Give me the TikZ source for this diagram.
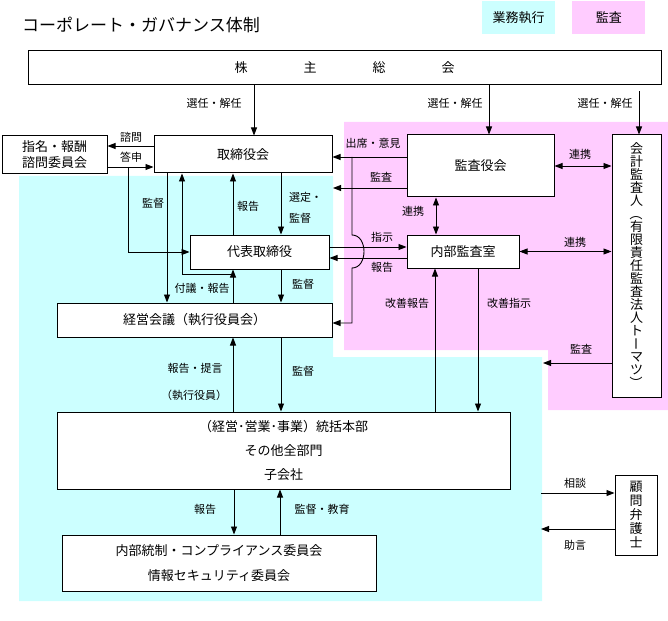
\documentclass[tikz,border=0pt]{standalone}
\usepackage{fontspec}
\setmainfont{Noto Sans CJK JP}
\usepackage{graphicx}
\usetikzlibrary{arrows.meta,positioning}

\definecolor{execcyan}{RGB}{204,255,255}
\definecolor{auditpink}{RGB}{255,204,255}

% one character turned for vertical writing
\newcommand{\tatechar}[1]{\rotatebox[origin=c]{-90}{\rule[-0.12em]{0pt}{1em}#1}}

\begin{document}
\begin{tikzpicture}[x=1pt, y=-1pt, font=\fontsize{13}{16}\selectfont]
    \tikzstyle{box} = [rectangle, draw, line width=1pt, fill=white, inner sep=0pt, align=center]
    \tikzstyle{legend} = [rectangle, inner sep=0pt, minimum width=73pt, minimum height=33pt]
    \tikzstyle{note} = [font=\fontsize{11}{13}\selectfont, inner sep=0pt]
    \tikzstyle{arrow} = [line width=0.9pt, -{Triangle[length=8pt,width=6pt]}]
    \tikzstyle{twoway} = [line width=0.9pt, {Triangle[length=8pt,width=6pt]}-{Triangle[length=8pt,width=6pt]}]

    \useasboundingbox (0,0) rectangle (668,620);

    % Areas
    \fill [execcyan] (19,176) -- (333,176) -- (333,357) -- (542,357) -- (542,601) -- (19,601) -- cycle;
    \fill [auditpink] (344,122) -- (668,122) -- (668,410) -- (548,410) -- (548,350) -- (344,350) -- cycle;

    % Title and legend
    \node [anchor=west, inner sep=0pt, font=\fontsize{17}{20}\selectfont] (title) at (22,25) {コーポレート・ガバナンス体制};
    \node [legend, fill=execcyan] (legexec) at (518.5,17.5) {業務執行};
    \node [legend, fill=auditpink, right=17pt of legexec] (legaudit) {監査};

    % Boxes
    \node [box, minimum width=633pt, minimum height=34pt] (kabunushi) at (344.5,68) {株\hspace{56pt}主\hspace{56pt}総\hspace{56pt}会};
    \node [box, minimum width=105pt, minimum height=38pt, font=\fontsize{13}{16}\selectfont] (shimei) at (54.5,155) {指名・報酬\\諮問委員会};
    \node [box, minimum width=178pt, minimum height=37pt] (torishimari) at (243,154.5) {取締役会};
    \node [box, minimum width=147pt, minimum height=62pt] (kansayaku) at (480.5,166) {監査役会};
    \node [box, minimum width=49pt, minimum height=262pt, font=\fontsize{13}{13}\selectfont] (kaikei) at (636.5,266)
        {会\\計\\監\\査\\人\\\tatechar{（}\\有\\限\\責\\任\\監\\査\\法\\人\\ト\\\tatechar{ー}\\マ\\ツ\\\tatechar{）}};
    \node [box, minimum width=139pt, minimum height=34pt] (daihyo) at (259.5,252) {代表取締役};
    \node [box, minimum width=112pt, minimum height=33pt] (naibu) at (463,251.5) {内部監査室};
    \node [box, minimum width=275pt, minimum height=34pt] (keiei) at (194.5,320) {経営会議（執行役員会）};
    \node [box, minimum width=453pt, minimum height=77pt, font=\fontsize{13}{24}\selectfont] (honbu) at (283.5,450.5)
        {（経営･営業･事業）統括本部\\その他全部門\\子会社};
    \node [box, minimum width=314pt, minimum height=56pt, font=\fontsize{13}{25}\selectfont] (iinkai) at (219,563)
        {内部統制・コンプライアンス委員会\\情報セキュリティ委員会};
    \node [box, minimum width=42pt, minimum height=80pt, font=\fontsize{13}{14}\selectfont] (komon) at (636,515) {顧\\問\\弁\\護\\士};

    % Free ends
    \coordinate (toshin) at (128,167);
    \coordinate (fugi) at (233,274);
    \coordinate (shusseki) at (352,157);
    \coordinate (kansaend) at (333,188);
    \coordinate (kaikeiend) at (543,363);
    \coordinate (sodan) at (541,493);
    \coordinate (jogen) at (541,529);

    % Arrows from the shareholders
    \draw [arrow] (kabunushi.south -| 254,0) -- (torishimari.north -| 254,0);
    \draw [arrow] (kabunushi.south -| 489,0) -- (kansayaku.north -| 489,0);
    \draw [arrow, shorten <=6pt] (kabunushi.south -| 639,0) -- (kaikei.north -| 639,0);
    \node [note] (l1) at (214,103) {選任・解任};
    \node [note] (l2) at (455,103) {選任・解任};
    \node [note] (l3) at (605,103) {選任・解任};

    % Board and committee
    \draw [arrow] (torishimari.west |- 0,146) -- (shimei.east |- 0,146);
    \draw [arrow] (shimei.east |- 0,167) -- (torishimari.west |- 0,167);
    \node [note] (l4) at (131,137) {諮問};
    \node [note] (l5) at (131,157) {答申};

    % Execution side
    \draw [arrow] (toshin) |- (daihyo.west);
    \draw [arrow] (torishimari.south -| 167,0) -- (keiei.north -| 167,0);
    \node [note] (l6) at (153,203) {監督};
    \draw [arrow] (daihyo.north -| 233,0) -- (torishimari.south -| 233,0);
    \node [note] (l7) at (248,206) {報告};
    \draw [arrow] (torishimari.south -| 281,0) -- (daihyo.north -| 281,0);
    \node [note, anchor=west, align=left, font=\fontsize{11}{21}\selectfont] (l8) at (289,207.5) {選定・\\監督};
    \draw [arrow] (keiei.north -| 233,0) -- (daihyo.south -| 233,0);
    \draw [arrow] (fugi) -| (torishimari.south -| 182,0);
    \node [note] (l9) at (202,288) {付議・報告};
    \draw [arrow] (daihyo.south -| 281,0) -- (keiei.north -| 281,0);
    \node [note] (l10) at (303,284) {監督};
    \draw [arrow] (honbu.north -| 233,0) -- (keiei.south -| 233,0);
    \node [note] (l11) at (195,368) {報告・提言};
    \node [note] (l12) at (194,395) {（執行役員）};
    \draw [arrow] (keiei.south -| 281,0) -- (honbu.north -| 281,0);
    \node [note] (l13) at (303,371) {監督};
    \draw [arrow] (honbu.south -| 234,0) -- (iinkai.north -| 234,0);
    \node [note] (l14) at (205,509) {報告};
    \draw [arrow] (iinkai.north -| 280,0) -- (honbu.south -| 280,0);
    \node [note] (l15) at (322,509) {監督・教育};

    % Audit side
    \draw [arrow] (kansayaku.west |- 0,157) -- (torishimari.east |- 0,157);
    \node [note] (l16) at (373,143) {出席・意見};
    \draw [arrow] (kansayaku.west |- 0,188) -- (kansaend);
    \node [note] (l17) at (381,177) {監査};
    \draw [arrow] (shusseki) -- (352,235) .. controls (368,235) and (368,268) .. (352,268) |- (keiei.east |- 0,323);
    \draw [twoway] (kansayaku.east) -- (kansayaku.east -| kaikei.west);
    \node [note] (l18) at (580,154) {連携};
    \draw [twoway] (kansayaku.south -| 436,0) -- (naibu.north -| 436,0);
    \node [note] (l19) at (413,211) {連携};
    \draw [arrow] (daihyo.east |- 0,247) -- (naibu.west |- 0,247);
    \node [note] (l20) at (382,237) {指示};
    \draw [arrow] (naibu.west |- 0,258) -- (daihyo.east |- 0,258);
    \node [note] (l21) at (382,267) {報告};
    \draw [twoway] (naibu.east) -- (naibu.east -| kaikei.west);
    \node [note] (l22) at (575,242) {連携};
    \draw [arrow] (honbu.north -| 435,0) -- (naibu.south -| 435,0);
    \node [note] (l23) at (407,303) {改善報告};
    \draw [arrow] (naibu.south -| 478,0) -- (honbu.north -| 478,0);
    \node [note] (l24) at (509,303) {改善指示};
    \draw [arrow] (kaikei.west |- 0,363) -- (kaikeiend);
    \node [note] (l25) at (581,349) {監査};

    % Legal counsel
    \draw [arrow] (sodan) -- (komon.west |- sodan);
    \node [note] (l26) at (575,483) {相談};
    \draw [arrow] (komon.west |- jogen) -- (jogen);
    \node [note] (l27) at (575,545) {助言};
\end{tikzpicture}
\end{document}
